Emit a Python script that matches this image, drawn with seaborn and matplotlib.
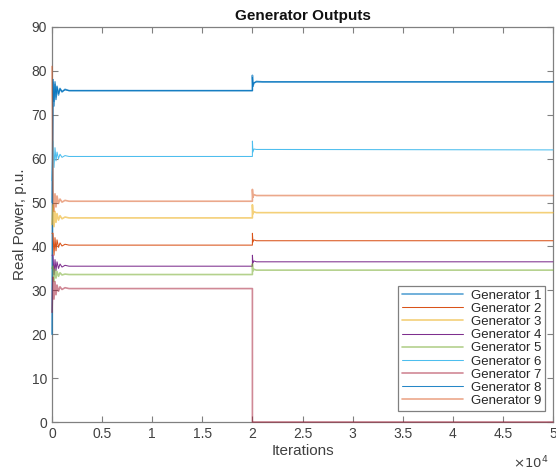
import numpy as np
import pandas as pd
import matplotlib
matplotlib.use("Agg")
import matplotlib.pyplot as plt
import seaborn as sns
from matplotlib.ticker import FuncFormatter, MultipleLocator

# ---- data ----
iterations = [0, 100, 200, 300, 400, 500, 650, 800, 1000, 1300, 1700,
              20000, 20001, 20050, 20150, 20400, 21000, 50000]

gen1 = [20, 78, 72, 77.5, 73.5, 76.5, 74.5, 76, 75.2, 75.8, 75.5, 75.5, 79, 76.5, 77.2, 77.6, 77.5, 77.5]
gen2 = [43, 43, 38, 42, 39, 41.5, 39.8, 40.8, 40.1, 40.5, 40.3, 40.3, 43, 41.0, 41.5, 41.3, 41.3, 41.3]
gen3 = [45, 49.5, 44.5, 48, 45.5, 47.5, 46, 47, 46.3, 46.7, 46.5, 46.5, 49.5, 47.4, 47.9, 47.7, 47.7, 47.7]
gen4 = [38, 38, 33.5, 37, 34.5, 36.5, 35, 36, 35.3, 35.7, 35.5, 35.5, 38, 36.2, 36.7, 36.5, 36.5, 36.5]
gen5 = [35, 35.5, 32, 34.8, 32.8, 34.3, 33.2, 34, 33.5, 33.7, 33.6, 33.6, 36, 34.4, 34.8, 34.6, 34.6, 34.6]
gen6 = [55, 64, 58, 62.5, 59.5, 61.5, 60, 61, 60.3, 60.7, 60.5, 60.5, 64, 61.5, 62.2, 62.1, 62.1, 62.0]
gen7 = [25, 33, 28, 32, 29, 31.2, 29.8, 30.8, 30.2, 30.6, 30.4, 30.4, 0, 0, 0, 0, 0, 0]
gen8 = [50, 77.5, 73, 77, 74, 76.3, 74.8, 75.9, 75.3, 75.7, 75.5, 75.5, 78.5, 76.6, 77.3, 77.5, 77.5, 77.5]
gen9 = [81, 53, 48, 52, 49, 51.5, 49.8, 50.8, 50.1, 50.5, 50.3, 50.3, 53, 51.2, 51.8, 51.6, 51.6, 51.6]

series = [gen1, gen2, gen3, gen4, gen5, gen6, gen7, gen8, gen9]
names = [f"Generator {i}" for i in range(1, 10)]
colors = ["#0072BD", "#D95319", "#EDB120", "#7E2F8E", "#77AC30",
          "#4DBEEE", "#A2142F", "#0072BD", "#D95319"]
alphas = [0.65, 1, 0.6, 1, 0.55, 1, 0.5, 0.85, 0.5]
widths = [1.2, 0.75, 1.2, 0.75, 1.2, 0.75, 1.2, 0.75, 1.2]

df = pd.concat([pd.DataFrame({"Iterations": iterations, "Power": s, "Generator": n})
                for s, n in zip(series, names)], ignore_index=True)

sns.set_style("white")
plt.rcParams["font.family"] = ["Liberation Sans", "DejaVu Sans"]

fig = plt.figure(figsize=(5.56, 4.74), dpi=100)
ax = fig.add_axes([52/556, 1-422/474, 501/556, 395/474])

for n, c, a, w in zip(names, colors, alphas, widths):
    sns.lineplot(data=df[df["Generator"] == n], x="Iterations", y="Power",
                 color=c, alpha=a, lw=w, ax=ax, label=n, estimator=None,
                 sort=False, clip_on=False, zorder=3)

ax.set_xlim(0, 50000)
ax.set_ylim(0, 90)
ax.xaxis.set_major_locator(MultipleLocator(5000))
ax.yaxis.set_major_locator(MultipleLocator(10))
ax.xaxis.set_major_formatter(FuncFormatter(lambda v, p: f"{v/1e4:g}"))

axcol = "#808080"
for sp in ax.spines.values():
    sp.set_visible(True)
    sp.set_color(axcol)
    sp.set_linewidth(0.9)
ax.tick_params(axis="both", direction="in", length=4, width=0.8, color=axcol,
               labelcolor="#404040", labelsize=10, top=True, right=True,
               bottom=True, left=True)

ax.set_xlabel("Iterations", fontsize=11, color="#404040", labelpad=2)
ax.set_ylabel("Real Power, p.u.", fontsize=11, color="#404040", labelpad=3)
ax.set_title("Generator Outputs", fontsize=11, fontweight="bold", color="#111111", pad=5)
fig.text(531/556, 1-463/474, r"$\times10^{4}$", fontsize=9.5, color="#404040",
         ha="center", va="center")

leg = ax.legend(loc="lower right", bbox_to_anchor=(0.985, 0.028), fontsize=9.5,
                frameon=True, fancybox=False, edgecolor=axcol, handlelength=4.6,
                labelspacing=0.07, borderpad=0.3, handletextpad=0.6,
                borderaxespad=0)
leg.get_frame().set_linewidth(0.9)
leg.get_frame().set_alpha(1)
leg.set_zorder(5)

fig.savefig("out.png", dpi=100, facecolor="white")
